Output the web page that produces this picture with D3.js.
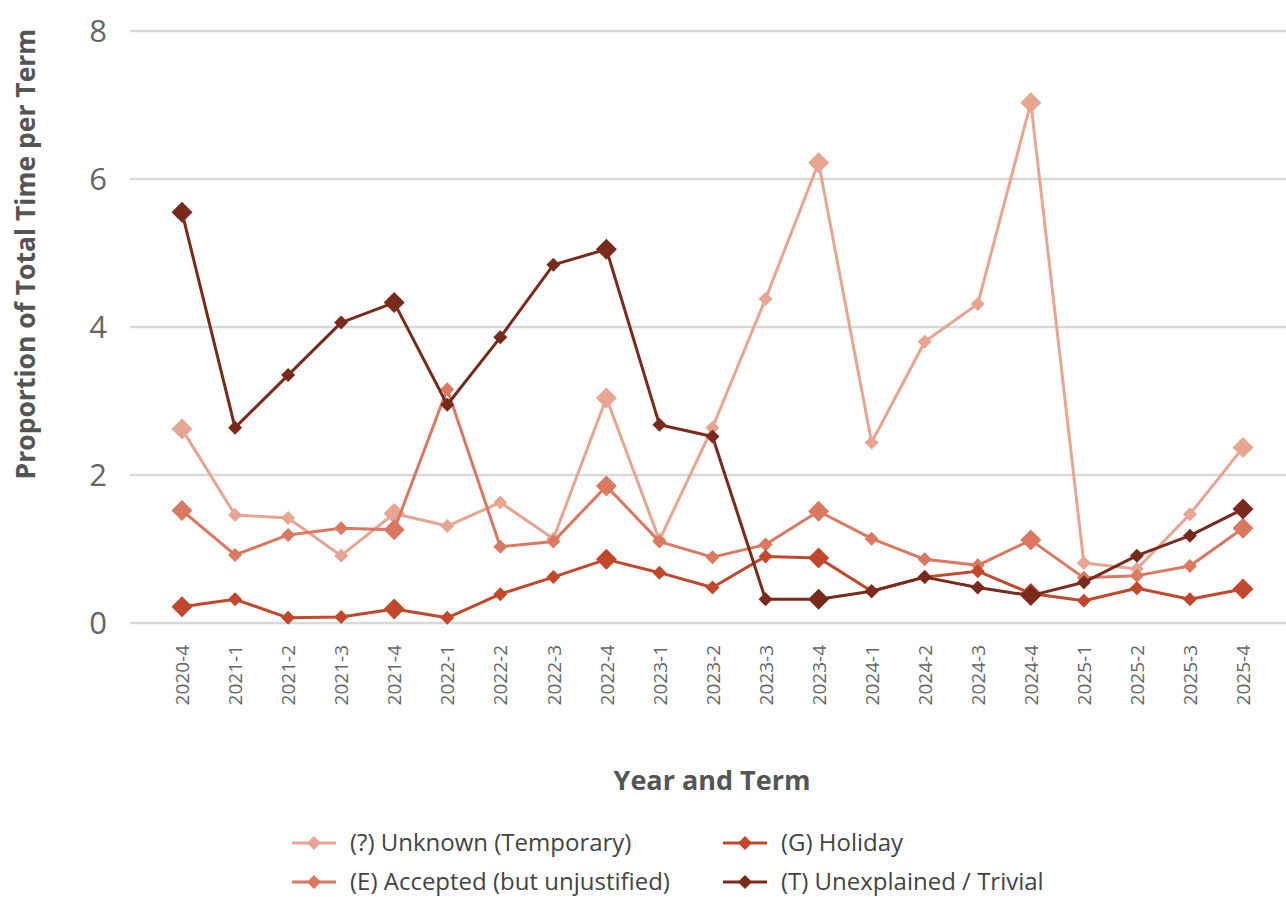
<!DOCTYPE html>
<html><head><meta charset="utf-8">
<script src="https://cdn.jsdelivr.net/npm/d3@7"></script>
<style>body{margin:0;background:#fff}svg{display:block}</style>
</head><body>
<svg id="c" width="1286" height="897"></svg>
<script>
const categories = ["2020-4","2021-1","2021-2","2021-3","2021-4","2022-1","2022-2","2022-3","2022-4","2023-1","2023-2","2023-3","2023-4","2024-1","2024-2","2024-3","2024-4","2025-1","2025-2","2025-3","2025-4"];
const unknownTemp = [2.62,1.46,1.42,0.91,1.48,1.31,1.63,1.14,3.04,1.12,2.64,4.38,6.22,2.44,3.80,4.31,7.03,0.81,0.73,1.47,2.37];
const accepted    = [1.52,0.92,1.19,1.28,1.26,3.16,1.03,1.10,1.85,1.10,0.89,1.06,1.51,1.14,0.86,0.78,1.12,0.61,0.64,0.77,1.28];
const holiday     = [0.22,0.32,0.07,0.08,0.19,0.07,0.39,0.62,0.86,0.68,0.48,0.90,0.88,0.43,0.62,0.70,0.40,0.30,0.47,0.32,0.46];
const unexplained = [5.55,2.64,3.35,4.06,4.33,2.95,3.86,4.84,5.05,2.68,2.52,0.32,0.32,0.43,0.62,0.48,0.37,0.55,0.91,1.18,1.54];
const yTicks = [0,2,4,6,8];
const seriesNames = ["(?) Unknown (Temporary)","(E) Accepted (but unjustified)","(G) Holiday","(T) Unexplained / Trivial"];
const seriesColors = ["#e8a592","#da7860","#c2472b","#7a2a1b"];
const seriesValues = [unknownTemp, accepted, holiday, unexplained];

const svg = d3.select("#c");
const FONT = "'Open Sans', 'Noto Sans', sans-serif";
const x = d3.scalePoint().domain(categories).range([182, 1243]);
const y = d3.scaleLinear().domain([0, 8]).range([623, 31]);

// gridlines
svg.append("g").selectAll("line").data(yTicks).join("line")
  .attr("x1", 130).attr("x2", 1286)
  .attr("y1", d => y(d)).attr("y2", d => y(d))
  .attr("stroke", "#d9d9d9").attr("stroke-width", 2.5);

// y axis labels
const yAxis = svg.append("g").attr("transform", "translate(107,0)")
  .call(d3.axisLeft(y).tickValues(yTicks).tickSize(0).tickPadding(0));
yAxis.select(".domain").remove();
yAxis.selectAll("text").attr("font-family", FONT).attr("font-size", 31)
  .attr("fill", "#666").attr("dy", "0.35em");

// x axis labels
const xAxis = svg.append("g").attr("transform", "translate(0,645)")
  .call(d3.axisBottom(x).tickSize(0).tickPadding(0));
xAxis.select(".domain").remove();
xAxis.selectAll("text").attr("font-family", FONT).attr("font-size", 19)
  .attr("fill", "#666").attr("text-anchor", "end")
  .attr("transform", "rotate(-90)").attr("x", 0).attr("y", 0).attr("dy", "0.35em");

// axis titles
svg.append("text").attr("transform", "translate(35,254) rotate(-90)")
  .attr("text-anchor", "middle").attr("font-family", FONT).attr("font-weight", "bold")
  .attr("font-size", 26.5).attr("fill", "#555").text("Proportion of Total Time per Term");
svg.append("text").attr("x", 712).attr("y", 790)
  .attr("text-anchor", "middle").attr("font-family", FONT).attr("font-weight", "bold")
  .attr("font-size", 27).attr("fill", "#555").text("Year and Term");

const diamond = (cx, cy, r) => `M${cx},${cy - r}L${cx + r},${cy}L${cx},${cy + r}L${cx - r},${cy}Z`;
const line = d3.line().x((d, i) => x(categories[i])).y(d => y(d));

seriesValues.forEach((vals, si) => {
  const g = svg.append("g");
  g.append("path").attr("d", line(vals)).attr("fill", "none")
    .attr("stroke", seriesColors[si]).attr("stroke-width", 3).attr("stroke-linejoin", "round");
  g.selectAll("path.m").data(vals).join("path").attr("class", "m")
    .attr("d", (d, i) => diamond(x(categories[i]), y(d), categories[i].endsWith("-4") ? 10.5 : 7))
    .attr("fill", seriesColors[si]);
});

// legend
const legendPos = [[292, 843], [292, 882], [723, 843], [723, 882]];
seriesNames.forEach((name, si) => {
  const [lx, ly] = legendPos[si];
  const g = svg.append("g");
  g.append("line").attr("x1", lx).attr("x2", lx + 44).attr("y1", ly).attr("y2", ly)
    .attr("stroke", seriesColors[si]).attr("stroke-width", 3);
  g.append("path").attr("d", diamond(lx + 22, ly, 7)).attr("fill", seriesColors[si]);
  g.append("text").attr("x", lx + 58).attr("y", ly).attr("dy", "0.35em")
    .attr("font-family", FONT).attr("font-size", 24).attr("fill", "#444").text(name);
});
</script>
</body></html>
